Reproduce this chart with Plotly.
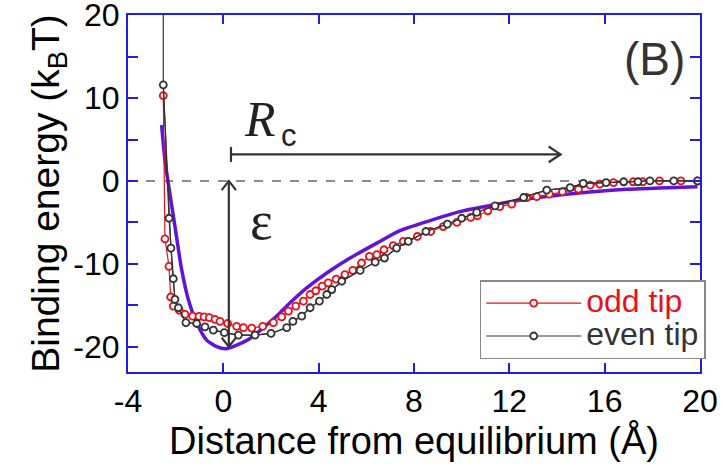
import plotly.graph_objects as go

# ---- data ----
odd_x = [-2.52, -2.45, -2.28, -2.21, -2.10, -1.85, -1.61, -1.29, -1.02, -0.81, -0.59, -0.35, -0.14,
         0.18, 0.56, 0.84, 1.19, 1.65, 2.10, 2.45, 2.73, 3.04, 3.36, 3.64, 3.88, 4.15, 4.40, 4.73,
         5.10, 5.43, 5.80, 6.13, 6.44, 6.74, 7.13, 7.55, 8.14, 8.70, 9.23, 9.80, 10.38, 10.66, 11.10,
         11.60, 12.10, 12.73, 13.15, 13.68, 14.23, 14.90, 15.39, 15.80, 16.37, 17.20, 17.60, 18.30,
         19.20, 19.90]
odd_y = [10.3, -7.0, -10.3, -14.0, -15.1, -15.6, -16.1, -16.3, -16.35, -16.4, -16.5, -16.7, -16.95,
         -17.2, -17.55, -17.7, -17.75, -17.55, -17.1, -16.4, -15.7, -15.1, -14.5, -13.7, -13.25, -12.7,
         -12.3, -11.85, -11.3, -10.8, -9.9, -9.1, -8.9, -8.3, -7.8, -7.3, -6.7, -6.1, -5.5, -5.0, -4.4,
         -4.2, -3.6, -3.1, -2.8, -2.0, -1.9, -1.6, -1.3, -1.0, -0.5, -0.4, -0.2, -0.1, -0.1, 0.0,
         0.0, 0.0]

even_x = [-2.52, -2.52, -2.28, -2.20, -2.10, -2.03, -1.89, -1.57, -1.12, -0.77, -0.42, 0.04, 0.63,
          1.33, 2.00, 2.66, 2.92, 3.29, 3.64, 4.03, 4.34, 4.55, 4.97, 5.74, 6.37, 6.76, 7.27, 7.76,
          8.50, 9.40, 10.00, 10.63, 11.40, 12.60, 13.57, 14.55, 15.10, 16.06, 16.80, 17.40, 17.90,
          18.90, 19.90]
even_y = [30.0, 11.6, -4.5, -8.1, -11.8, -14.3, -15.3, -17.1, -17.2, -17.6, -18.0, -18.3, -18.6,
          -18.6, -18.4, -17.7, -16.95, -16.3, -15.3, -14.5, -13.7, -13.1, -12.1, -10.8, -9.8, -9.3,
          -8.1, -7.3, -6.1, -5.2, -4.5, -3.8, -3.0, -2.0, -1.1, -0.8, -0.3, -0.2, -0.1, -0.1, 0.0,
          0.0, 0.0]
even_marker_from = 1  # first point is off-chart (line continues above the frame)

model_x = [-2.59, -2.45, -2.03, -1.75, -1.47, -1.12, -0.70, -0.28, 0.11, 0.56, 1.12, 1.68, 2.24,
           2.80, 3.50, 4.34, 5.32, 6.44, 7.41, 8.55, 9.93, 11.30, 12.70, 14.10, 15.50, 16.90,
           18.30, 19.90]
model_y = [6.75, 2.5, -5.5, -10.7, -14.3, -17.1, -19.2, -20.0, -20.25, -19.8, -19.0, -17.7, -16.3,
           -14.7, -12.9, -11.1, -9.3, -7.5, -6.0, -4.9, -3.7, -2.9, -2.2, -1.7, -1.3, -1.0,
           -0.85, -0.7]

x_ticks = [-4, 0, 4, 8, 12, 16, 20]
x_ticktext = ["-4", "0", "4", "8", "12", "16", "20"]
y_ticks = [-20, -10, 0, 10, 20]
y_ticktext = ["-20", "-10", "0", "10", "20"]
y_minor = [-15, -5, 5, 15]

RED = "#E8101A"
BLK = "#333333"
PUR = "#6214D6"
AXC = "#1E1EE6"
FONT = "Liberation Sans, Arial, sans-serif"
SERIF = "Liberation Serif, Times New Roman, serif"

fig = go.Figure()

fig.add_trace(go.Scatter(x=model_x, y=model_y, mode="lines", line=dict(color=PUR, width=3.5, shape="spline", smoothing=0.6),
                         showlegend=False, hoverinfo="skip"))
fig.add_trace(go.Scatter(x=odd_x, y=odd_y, mode="lines+markers",
                         line=dict(color=RED, width=1.2),
                         marker=dict(symbol="circle", size=7, color="white", line=dict(color=RED, width=1.8)),
                         name="<span style='color:%s;font-size:32px'>odd tip</span>" % RED))
fig.add_trace(go.Scatter(x=even_x, y=even_y, mode="lines", line=dict(color=BLK, width=1.2),
                         showlegend=False, hoverinfo="skip"))
fig.add_trace(go.Scatter(x=even_x[even_marker_from:], y=even_y[even_marker_from:], mode="lines+markers",
                         line=dict(color=BLK, width=1.2),
                         marker=dict(symbol="circle", size=7, color="white", line=dict(color=BLK, width=1.8)),
                         name="<span style='color:%s;font-size:32px'>even tip</span>" % BLK))

# dashed zero line
fig.add_shape(type="line", xref="paper", x0=0, x1=1, yref="y", y0=0, y1=0,
              line=dict(color="#666666", width=1.5, dash="dash"), layer="below")

# Rc arrow (horizontal) with bar at start
ax0, ax1, ay = 0.32, 14.15, 3.2
fig.add_shape(type="line", x0=ax0, x1=ax1, y0=ay, y1=ay, line=dict(color=BLK, width=2.2))
fig.add_shape(type="line", x0=ax0, x1=ax0, y0=ay - 0.9, y1=ay + 0.9, line=dict(color=BLK, width=2.2))
fig.add_shape(type="path", path="M %f %f L %f %f L %f %f" % (ax1 - 0.5, ay + 0.95, ax1, ay, ax1 - 0.5, ay - 0.95),
              line=dict(color=BLK, width=2.2))

# epsilon arrow (vertical, double headed)
vx, vy0, vy1 = 0.23, 0.0, -20.0
fig.add_shape(type="line", x0=vx, x1=vx, y0=vy0, y1=vy1, line=dict(color=BLK, width=2.2))
fig.add_shape(type="path", path="M %f %f L %f %f L %f %f" % (vx - 0.3, vy0 - 1.1, vx, vy0, vx + 0.3, vy0 - 1.1),
              line=dict(color=BLK, width=2.2))
fig.add_shape(type="path", path="M %f %f L %f %f L %f %f" % (vx - 0.3, vy1 + 1.1, vx, vy1, vx + 0.3, vy1 + 1.1),
              line=dict(color=BLK, width=2.2))

fig.add_annotation(x=1.55, y=7.5, text="<i>R</i>", showarrow=False, xanchor="center", yanchor="middle",
                   font=dict(family=SERIF, size=50, color="#222222"))
fig.add_annotation(x=2.75, y=5.5, text="c", showarrow=False, xanchor="center", yanchor="middle",
                   font=dict(family=FONT, size=31, color="#222222"))
fig.add_annotation(x=1.6, y=-4.8, text="ε", showarrow=False, xanchor="center", yanchor="middle",
                   font=dict(family=SERIF, size=54, color="#222222"))
fig.add_annotation(xref="paper", yref="paper", x=0.921, y=0.877, text="(B)", showarrow=False,
                   xanchor="center", yanchor="middle",
                   font=dict(family=FONT, size=46, color="#333333"))

axis_common = dict(showline=True, linecolor=AXC, linewidth=2, mirror="ticks", ticks="inside",
                   tickcolor=AXC, tickwidth=1.5, showgrid=False, zeroline=False,
                   ticklabeloverflow="allow", automargin=False,
                   tickfont=dict(family=FONT, size=32, color="black"))

fig.update_xaxes(range=[-4.001, 20.001], tickvals=x_ticks, ticktext=x_ticktext, ticklen=9,
                 title=dict(text="Distance from equilibrium (Å)", font=dict(family=FONT, size=38, color="black"),
                            standoff=6),
                 **axis_common)
fig.update_yaxes(range=[-23.05, 20.02], tickvals=y_ticks, ticktext=y_ticktext, ticklen=10,
                 minor=dict(tickvals=y_minor, ticklen=10, tickcolor=AXC, tickwidth=1.5, ticks="inside"),
                 title=dict(text="Binding energy (k<sub>B</sub>T)", font=dict(family=FONT, size=39, color="black"),
                            standoff=0),
                 **axis_common)

fig.update_layout(
    width=723, height=471, margin=dict(l=128, r=23, t=15, b=99),
    paper_bgcolor="white", plot_bgcolor="white",
    font=dict(family=FONT),
    legend=dict(x=1.01, xanchor="right", y=0.036, yanchor="bottom", bgcolor="white",
                bordercolor="#888888", borderwidth=1.5, font=dict(family=FONT, size=23),
                itemwidth=95, tracegroupgap=0),
)

fig.write_html("out.html")
